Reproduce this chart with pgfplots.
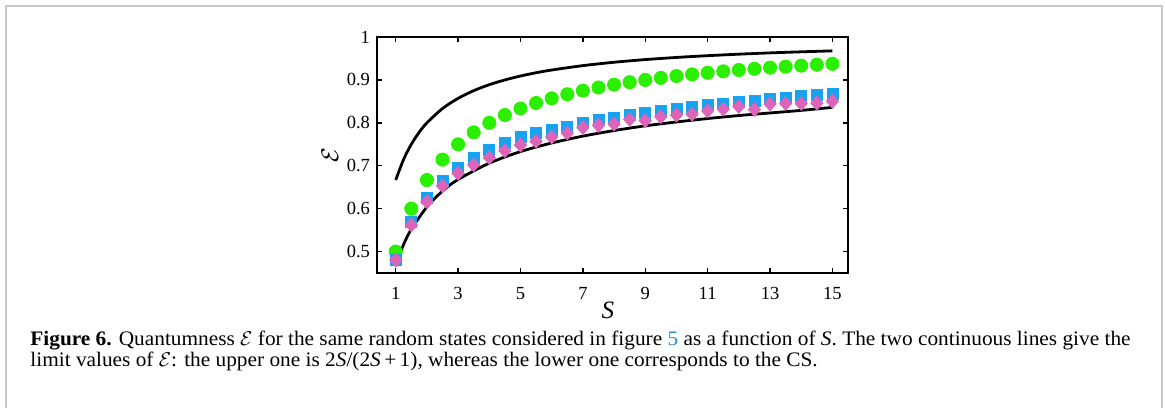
\documentclass[border=0pt]{standalone}
\usepackage{fontspec}
\setmainfont{Liberation Serif}
\newfontfamily\capfont{Liberation Serif}[FakeStretch=1.035]
\usepackage{pgfplots}
\pgfplotsset{compat=1.18}
\definecolor{grn}{RGB}{42,240,0}
\definecolor{blu}{RGB}{24,163,240}
\definecolor{pnk}{RGB}{220,100,185}
\definecolor{lnk}{RGB}{40,140,200}
\definecolor{frm}{RGB}{200,200,200}

\begin{document}
\begin{tikzpicture}
% page frame (1 px = 0.5pt)
\path (0,0) rectangle (582.5pt,-204pt);
\draw[frm, line width=1pt] (2.75pt,-204pt) -- (2.75pt,-2.75pt) -- (580.75pt,-2.75pt) -- (580.75pt,-204pt);

\begin{axis}[
    at={(188.5pt,-136.5pt)}, anchor=south west,
    scale only axis, width=235.5pt, height=118pt,
    xmin=0.4, xmax=15.5, ymin=0.45, ymax=1,
    xtick={1,3,...,15},
    ytick={0.5,0.6,0.7,0.8,0.9,1},
    yticklabels={0.5,0.6,0.7,0.8,0.9,1},
    tick align=inside,
    major tick length=2.5pt,
    axis line style={line width=0.75pt},
    every tick/.style={black, line width=0.75pt},
    /pgf/number format/assume math mode=true,
    tick label style={font=\fontsize{9.25}{10}\selectfont},
    xticklabel style={yshift=-3.5pt},
    xlabel={\textit{S}},
    ylabel={$\mathcal{E}$},
    xlabel style={at={(axis description cs:0.49,0)}, anchor=center, yshift=-18.5pt, font=\fontsize{12.5}{14}\selectfont},
    ylabel style={at={(axis description cs:0,0.5)}, anchor=center, yshift=23.5pt, font=\fontsize{13}{15}\selectfont},
    clip=false,
]
% green circles
\addplot[only marks, mark=*, mark size=3.3pt, color=grn] coordinates {
(1,0.5) (1.5,0.6) (2,0.6667) (2.5,0.7143) (3,0.75) (3.5,0.7778) (4,0.8) (4.5,0.8182)
(5,0.8333) (5.5,0.8462) (6,0.8571) (6.5,0.8667) (7,0.875) (7.5,0.8824) (8,0.8889)
(8.5,0.8947) (9,0.9) (9.5,0.9048) (10,0.9091) (10.5,0.9130) (11,0.9167) (11.5,0.92)
(12,0.9231) (12.5,0.9259) (13,0.9286) (13.5,0.9310) (14,0.9333) (14.5,0.9355) (15,0.9375)
};
% blue squares
\addplot[only marks, mark=square*, mark size=2.75pt, color=blu] coordinates {
(1,0.480) (1.5,0.570) (2,0.626) (2.5,0.665) (3,0.694) (3.5,0.718) (4,0.736) (4.5,0.753)
(5,0.767) (5.5,0.777) (6,0.784) (6.5,0.790) (7,0.799) (7.5,0.806) (8,0.812) (8.5,0.818)
(9,0.823) (9.5,0.828) (10,0.833) (10.5,0.837) (11,0.842) (11.5,0.845) (12,0.849)
(12.5,0.852) (13,0.856) (13.5,0.859) (14,0.862) (14.5,0.865) (15,0.868)
};
% pink diamonds
\addplot[only marks, mark=diamond*, mark size=3.4pt, mark options={xscale=1.2}, color=pnk] coordinates {
(1,0.480) (1.5,0.562) (2,0.616) (2.5,0.653) (3,0.682) (3.5,0.702) (4,0.719) (4.5,0.735)
(5,0.748) (5.5,0.757) (6,0.767) (6.5,0.776) (7,0.789) (7.5,0.794) (8,0.797) (8.5,0.808)
(9,0.805) (9.5,0.814) (10,0.818) (10.5,0.820) (11,0.828) (11.5,0.832) (12,0.838)
(12.5,0.831) (13,0.844) (13.5,0.845) (14,0.845) (14.5,0.846) (15,0.850)
};
% upper limit 2S/(2S+1)
\addplot[black, line width=1.4pt, smooth, no marks] coordinates {
(1,0.6667) (1.25,0.7143) (1.5,0.75) (1.75,0.7778) (2,0.8) (2.5,0.8333) (3,0.8571)
(3.5,0.875) (4,0.8889) (4.5,0.9) (5,0.9091) (5.5,0.9167) (6,0.9231) (7,0.9333)
(8,0.9412) (9,0.9474) (10,0.9524) (11,0.9565) (12,0.96) (13,0.963) (14,0.9655) (15,0.9677)
};
% lower limit (CS)
\addplot[black, line width=1.4pt, smooth, no marks] coordinates {
(1,0.467) (1.25,0.516) (1.5,0.552) (2,0.604) (2.5,0.641) (3,0.668) (4,0.706) (5,0.733)
(6,0.753) (7,0.769) (8,0.782) (9,0.793) (10,0.802) (11,0.810) (12,0.817) (13,0.823)
(14,0.829) (15,0.836)
};
\end{axis}

\node[anchor=base west, inner sep=0, font=\capfont\fontsize{10.3}{11}\selectfont] at (15pt,-172.5pt)
  {\textbf{Figure 6.} Quantumness $\mathcal{E}$ for the same random states considered in figure {\color{lnk}5} as a function of \textit{S}. The two continuous lines give the};
\node[anchor=base west, inner sep=0, font=\capfont\fontsize{10.3}{11}\selectfont] at (15pt,-183.3pt)
  {limit values of $\mathcal{E}$: the upper one is 2\textit{S}/(2\textit{S}\,+\,1), whereas the lower one corresponds to the CS.};
\end{tikzpicture}
\end{document}
